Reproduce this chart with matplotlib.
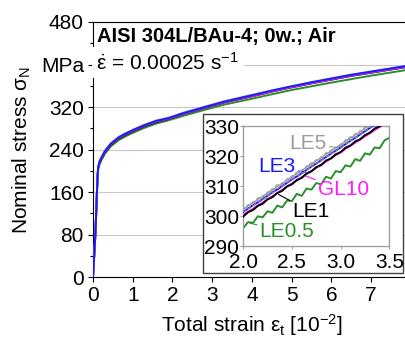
import matplotlib
matplotlib.use("Agg")
import matplotlib.pyplot as plt
from matplotlib.patches import Rectangle
from matplotlib.ticker import MultipleLocator

plt.rcParams["font.family"] = ["Liberation Sans", "DejaVu Sans"]
plt.rcParams["mathtext.fontset"] = "custom"
plt.rcParams["mathtext.rm"] = "Liberation Sans"
plt.rcParams["mathtext.it"] = "Liberation Sans:italic"
plt.rcParams["mathtext.bf"] = "Liberation Sans:bold"

# main curves (coarse read-off), strain in 10^-2, stress in MPa
m_strain = [0, 0.03, 0.06, 0.08, 0.10, 0.115, 0.13, 0.16, 0.20, 0.30, 0.45, 0.65,
            0.85, 1.05, 1.30, 1.60, 1.90, 2.30, 2.80, 3.30, 4.00, 4.50, 5.00, 5.50,
            6.00, 6.50, 7.00, 7.50, 8.00]
m_le5 = [0, 41, 81, 121, 161, 191, 207, 217, 224, 238, 252, 264, 272, 279, 287, 295,
         300, 310, 320.5, 331, 343, 351, 359, 367, 374, 381, 387, 393, 399]
m_le3 = [0, 40, 80, 120, 160, 190, 206, 216, 223, 237, 251, 263, 271, 278, 286, 294,
         299, 309, 319.5, 330, 342, 351, 359, 366.5, 373.5, 380.5, 386.5, 392.5, 398.5]
m_gl10 = [0, 39, 79, 119, 159, 189, 205, 215, 222, 236, 250, 262, 270, 277, 285, 293,
          298, 308, 318.5, 329, 340.5, 349.5, 357.5, 365, 372, 379, 385, 391, 397]
m_le1 = [0, 39, 79, 119, 159, 188, 204, 214, 221, 235, 249, 261, 269, 276, 284, 292,
         297.5, 307.5, 318, 328.5, 340, 349, 357, 364.5, 371.5, 378.5, 384.5, 390.5, 396.5]
m_le05 = [0, 37, 83, 116, 163, 185, 203, 211, 218, 232, 246, 258, 266, 273, 281, 289,
          295, 304, 314.5, 324.5, 335.5, 344, 352, 359, 366, 372.5, 379, 385, 391]

# inset curves (dense read-off)
i_strain = [2.00, 2.05, 2.10, 2.15, 2.20, 2.25, 2.30, 2.35, 2.40, 2.45, 2.50,
            2.55, 2.60, 2.65, 2.70, 2.75, 2.80, 2.85, 2.90, 2.95, 3.00,
            3.05, 3.10, 3.15, 3.20, 3.25, 3.30, 3.35, 3.40, 3.45, 3.50]
i_le5 = [302.2, 303.5, 304.4, 305.6, 306.5, 307.8, 308.7, 309.9, 310.8, 312.1, 313.0,
         314.2, 315.1, 316.4, 317.3, 318.5, 319.4, 320.7, 321.6, 322.8, 323.7,
         325.0, 325.9, 327.1, 328.0, 329.3, 330.2, 331.4, 332.3, 333.6, 334.5]
i_le3 = [301.4, 302.5, 303.6, 304.6, 305.7, 306.8, 307.9, 308.9, 310.0, 311.1, 312.2,
         313.2, 314.3, 315.4, 316.5, 317.5, 318.6, 319.7, 320.8, 321.8, 322.9,
         324.0, 325.1, 326.1, 327.2, 328.3, 329.4, 330.4, 331.5, 332.6, 333.7]
i_gl10 = [300.3, 301.4, 302.4, 303.5, 304.5, 305.6, 306.6, 307.7, 308.7, 309.8, 310.8,
          311.9, 312.9, 314.0, 315.0, 316.1, 317.1, 318.2, 319.2, 320.3, 321.3,
          322.4, 323.4, 324.5, 325.5, 326.6, 327.6, 328.7, 329.7, 330.8, 331.8]
i_le1 = [299.8, 301.3, 302.0, 303.4, 304.1, 305.6, 306.3, 307.7, 308.4, 309.9, 310.6,
         312.0, 312.7, 314.2, 314.9, 316.3, 317.0, 318.5, 319.2, 320.6, 321.3,
         322.8, 323.5, 324.9, 325.6, 327.0, 327.8, 329.2, 329.9, 331.3, 332.0]
i_le05 = [296.0, 298.0, 297.7, 299.9, 299.6, 301.6, 301.1, 303.5, 302.9, 305.2, 305.0,
          307.4, 306.7, 309.2, 308.8, 311.0, 310.6, 313.1, 312.5, 315.0, 314.6,
          316.9, 316.5, 319.0, 318.4, 320.9, 320.5, 322.9, 322.6, 325.2, 326.1]

y_ticks = [0, 80, 160, 240, 320, 400, 480]
y_labels = ["0", "80", "160", "240", "320", "MPa", "480"]
x_ticks = [0, 1, 2, 3, 4, 5, 6, 7]
in_xticks = [2.0, 2.5, 3.0, 3.5]
in_yticks = [290, 300, 310, 320, 330]

GRAY = "#9a9a9a"; BLUE = "#1a1aff"; MAG = "#ff19ff"; GREEN = "#2a8f2a"

fig = plt.figure(figsize=(4.06, 3.38), dpi=100)
ax = fig.add_axes([0.229, 0.180, 0.783, 0.755])

ax.plot(m_strain, m_le05, color=GREEN, lw=1.4, zorder=2)
ax.plot(m_strain, m_le1, color="black", lw=1.4, zorder=3)
ax.plot(m_strain, m_gl10, color=MAG, lw=1.4, zorder=4)
ax.plot(m_strain, m_le5, color=GRAY, lw=1.4, zorder=5)
ax.plot(m_strain, m_le3, color=BLUE, lw=1.4, zorder=6)

ax.set_xlim(0, 8); ax.set_ylim(0, 480)
ax.set_xticks(x_ticks)
ax.set_yticks(y_ticks); ax.set_yticklabels(y_labels)
ax.yaxis.set_minor_locator(MultipleLocator(40))
ax.grid(axis="y", color="#c8c8c8", lw=0.8)
ax.set_axisbelow(True)
ax.tick_params(direction="out", length=3.5, width=0.8, labelsize=15, pad=3)
ax.tick_params(which="minor", direction="out", length=2, width=0.8)

ax.set_ylabel(r"Nominal stress $\mathrm{\sigma_N}$", fontsize=15)
ax.yaxis.set_label_coords(-0.19, 0.5)
ax.set_xlabel(r"Total strain $\mathrm{\epsilon_t}$ [10$^{\mathrm{-2}}$]", fontsize=15)
ax.xaxis.set_label_coords(0.5, -0.135)

ax.text(0.0135, 0.923, "AISI 304L/BAu-4; 0w.; Air", transform=ax.transAxes,
        fontsize=14.5, fontweight="bold", va="baseline", ha="left")
ax.text(0.011, 0.814, r"$\dot{\mathrm{\epsilon}}$ = 0.00025 s$^{\mathrm{-1}}$",
        transform=ax.transAxes, fontsize=15, va="baseline", ha="left",
        bbox=dict(fc="white", ec="none", pad=3), zorder=7)

# inset
fig.add_artist(Rectangle((0.500, 0.192), 0.493, 0.470, transform=fig.transFigure,
                         fc="white", ec="#404040", lw=1.0, zorder=3))
ins = fig.add_axes([0.599, 0.272, 0.360, 0.355], zorder=4)
ins.plot(i_strain, i_le05, color=GREEN, lw=1.4, zorder=2)
ins.plot(i_strain, i_gl10, color=MAG, lw=1.4, zorder=3)
ins.plot(i_strain, i_le1, color="black", lw=1.4, zorder=4)
ins.plot(i_strain, i_le3, color=BLUE, lw=1.4, zorder=5)
ins.plot(i_strain, i_le5, color=GRAY, lw=1.0, marker="o", ms=2.6, mfc="none",
         mew=0.7, zorder=6)
ins.set_xlim(2.0, 3.5); ins.set_ylim(290, 330)
ins.set_xticks(in_xticks); ins.set_xticklabels([f"{v:.1f}" for v in in_xticks])
ins.set_yticks(in_yticks)
for s in ins.spines.values():
    s.set_color("#a0a0a0"); s.set_linewidth(1.0)
ins.tick_params(direction="out", length=2, width=0.8, color="#a0a0a0", labelsize=15)
ins.tick_params(axis="y", pad=1)
ins.tick_params(axis="x", pad=3)

arrow = dict(arrowstyle="-", lw=0.8, shrinkA=0, shrinkB=0)
ins.annotate("LE5", xy=(3.0, 322.6), xytext=(2.668, 324.3), color=GRAY, fontsize=15,
             ha="center", va="center", arrowprops=dict(arrow, color=GRAY))
ins.annotate("LE3", xy=(2.637, 314.6), xytext=(2.346, 316.4), color=BLUE, fontsize=15,
             ha="center", va="center", arrowprops=dict(arrow, color=BLUE))
ins.annotate("GL10", xy=(2.637, 313.4), xytext=(3.031, 308.7), color=MAG, fontsize=15,
             ha="center", va="center", arrowprops=dict(arrow, color=MAG))
ins.annotate("LE1", xy=(2.363, 307.2), xytext=(2.697, 301.4), color="black", fontsize=15,
             ha="center", va="center", arrowprops=dict(arrow, color="black"))
ins.annotate("LE0.5", xy=(2.072, 297.6), xytext=(2.449, 294.8), color=GREEN, fontsize=15,
             ha="center", va="center", arrowprops=dict(arrow, color=GREEN))

fig.savefig("out.png", dpi=100)
